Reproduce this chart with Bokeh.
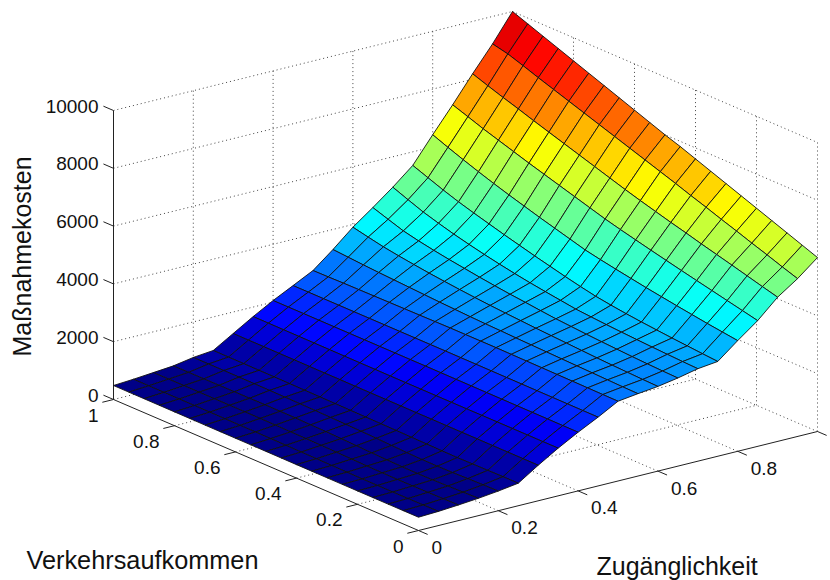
from bokeh.plotting import figure
from bokeh.models import Range1d, ColumnDataSource
from bokeh.core.properties import value
from bokeh.embed import file_html
from bokeh.resources import INLINE
import math

x_nodes = [i * 0.05 for i in range(21)]
y_nodes = [j * 0.05 for j in range(21)]

z_00 = [460,460,460,461,462,463,464,465,466,468,470,471,472,473,474,476,478,479,481,482,484]
z_05 = [490,485,482,480,480,482,486,492,498,504,510,514,518,520,522,524,526,527,528,529,530]
z_10 = [540,530,522,518,516,520,528,540,552,562,570,578,584,588,590,590,590,590,590,590,590]
z_15 = [600,585,570,558,552,556,568,586,606,624,640,650,660,664,664,662,660,657,654,652,650]
z_20 = [680,670,655,640,632,636,650,670,692,708,720,732,744,752,758,762,766,768,770,770,770]
z_25 = [780,778,772,765,760,764,772,782,790,796,800,806,812,818,822,826,830,833,836,838,840]
z_30 = [1230,1231,1232,1233,1234,1235,1236,1237,1238,1239,1240,1242,1243,1245,1246,1248,1250,1251,1253,1254,1256]
z_35 = [1650,1650,1650,1650,1650,1650,1650,1650,1650,1650,1650,1652,1654,1656,1658,1660,1662,1664,1666,1668,1670]
z_40 = [2030,2032,2034,2036,2038,2040,2042,2044,2046,2048,2050,2050,2051,2051,2052,2052,2053,2053,2054,2054,2055]
z_45 = [2380,2382,2384,2386,2388,2390,2392,2394,2396,2398,2400,2400,2400,2400,2400,2400,2400,2400,2400,2400,2400]
z_50 = [2760,2765,2770,2775,2780,2785,2790,2795,2800,2800,2800,2800,2795,2790,2785,2780,2775,2770,2765,2755,2750]
z_55 = [2850,2860,2875,2890,2905,2920,2935,2950,2965,2985,3000,3020,3045,3070,3100,3130,3160,3190,3225,3265,3305]
z_60 = [2930,2945,2965,2985,3010,3040,3070,3100,3130,3165,3200,3240,3285,3335,3390,3450,3520,3595,3680,3790,3906]
z_65 = [3050,3065,3085,3110,3140,3170,3205,3245,3285,3340,3400,3455,3520,3590,3670,3750,3840,3940,4060,4235,4415]
z_70 = [3200,3220,3245,3270,3300,3330,3365,3405,3450,3525,3600,3680,3770,3870,3980,4100,4230,4380,4540,4740,4948]
z_75 = [3280,3320,3365,3410,3460,3510,3570,3640,3720,3830,3950,4080,4210,4350,4490,4640,4790,4950,5130,5330,5530]
z_80 = [3830,3900,3970,4050,4130,4215,4300,4395,4490,4590,4700,4850,5000,5150,5310,5470,5640,5820,6010,6210,6420]
z_85 = [4350,4470,4590,4710,4830,4950,5075,5200,5330,5460,5600,5760,5920,6080,6240,6400,6570,6740,6910,7100,7285]
z_90 = [4990,5130,5275,5420,5560,5700,5850,5990,6140,6290,6450,6620,6790,6960,7130,7300,7470,7650,7820,8000,8187]
z_95 = [5460,5640,5830,6010,6200,6380,6570,6750,6940,7120,7300,7480,7660,7840,8020,8200,8380,8560,8750,8930,9050]
z_100 = [6020,6220,6420,6620,6820,7020,7220,7420,7620,7820,8000,8200,8400,8600,8800,9000,9200,9400,9600,9800,10000]

Z = [z_00,z_05,z_10,z_15,z_20,z_25,z_30,z_35,z_40,z_45,z_50,z_55,z_60,z_65,z_70,z_75,z_80,z_85,z_90,z_95,z_100]

x_ticks = [0, 0.2, 0.4, 0.6, 0.8]
x_tick_labels = ["0", "0.2", "0.4", "0.6", "0.8"]
y_ticks = [0, 0.2, 0.4, 0.6, 0.8, 1]
y_tick_labels = ["0", "0.2", "0.4", "0.6", "0.8", "1"]
z_ticks = [0, 2000, 4000, 6000, 8000, 10000]
z_tick_labels = ["0", "2000", "4000", "6000", "8000", "10000"]
x_title = "Zugänglichkeit"
y_title = "Verkehrsaufkommen"
z_title = "Maßnahmekosten"


def project(x, y, z):
    return 418 + 399 * x - 305 * y, 530 - 99 * x - 131 * y - 0.0289 * z


def jet(v):
    v = (math.floor(min(max(v, 0), 1) * 63.999) + 0.5) / 64
    f = lambda c: int(255 * min(max(1.5 - abs(4 * v - c), 0), 1))
    return "#%02x%02x%02x" % (f(3), f(2), f(1))


p = figure(width=830, height=580, output_backend="svg", toolbar_location=None,
           x_range=Range1d(0, 830), y_range=Range1d(580, 0), min_border=0, outline_line_color=None)
p.axis.visible = False
p.grid.visible = False
p.background_fill_color = "white"
p.border_fill_color = "white"


def seg(a, b, color, dash="solid", width=1.0):
    pa, pb = project(*a), project(*b)
    p.line([pa[0], pb[0]], [pa[1], pb[1]], line_color=color, line_dash=dash, line_width=width)


GC = "#444444"
DOT = "1 3"
grid_x = [0.2, 0.4, 0.6, 0.8, 1]
grid_y = [0.2, 0.4, 0.6, 0.8, 1]
grid_z = z_ticks[1:]
zmax = z_ticks[-1]
for gx in grid_x:
    seg((gx, 0, 0), (gx, 1, 0), GC, DOT)
    seg((gx, 1, 0), (gx, 1, zmax), GC, DOT)
for gy in grid_y:
    seg((0, gy, 0), (1, gy, 0), GC, DOT)
for gy in [0, 0.2, 0.4, 0.6, 0.8]:
    seg((1, gy, 0), (1, gy, zmax), GC, DOT)
for gz in grid_z:
    seg((0, 1, gz), (1, 1, gz), GC, DOT)
    seg((1, 1, gz), (1, 0, gz), GC, DOT)

AC = "#222222"
seg((0, 0, 0), (1, 0, 0), AC)
seg((0, 0, 0), (0, 1, 0), AC)
seg((0, 1, 0), (0, 1, zmax), AC)
for t in x_ticks + [1]:
    seg((t, 0, 0), (t, -0.03, 0), AC)
for t in y_ticks:
    seg((0, t, 0), (-0.028, t, 0), AC)
for t in z_ticks:
    seg((0, 1, t), (0, 1.033, t), AC)

zlo = min(min(r) for r in Z)
zhi = max(max(r) for r in Z)
xs, ys, colors = [], [], []
for i in range(len(x_nodes) - 2, -1, -1):
    for j in range(len(y_nodes) - 2, -1, -1):
        corners = [(i, j), (i + 1, j), (i + 1, j + 1), (i, j + 1)]
        pts = [project(x_nodes[a], y_nodes[b], Z[a][b]) for a, b in corners]
        xs.append([q[0] for q in pts])
        ys.append([q[1] for q in pts])
        colors.append(jet((Z[i][j + 1] - zlo) / (zhi - zlo)))
src = ColumnDataSource(dict(xs=xs, ys=ys, c=colors))
p.patches("xs", "ys", source=src, fill_color="c", line_color="#111111", line_width=0.9)

FONT = value("Liberation Sans")
TS = "19px"
for t, lab in zip(x_ticks, x_tick_labels):
    q = project(t, 0, 0)
    p.text([q[0] + 13], [q[1] + 17], text=[lab], text_font=FONT, text_font_size=TS,
           text_align="left", text_baseline="middle", text_color="#111111")
for t, lab in zip(y_ticks, y_tick_labels):
    q = project(0, t, 0)
    p.text([q[0] - 15], [q[1] + 15.5], text=[lab], text_font=FONT, text_font_size=TS,
           text_align="right", text_baseline="middle", text_color="#111111")
for t, lab in zip(z_ticks, z_tick_labels):
    q = project(0, 1, t)
    p.text([98], [q[1] - 4.5], text=[lab], text_font=FONT, text_font_size=TS,
           text_align="right", text_baseline="middle", text_color="#111111")

p.text([26], [559], text=[y_title], text_font=FONT, text_font_size="25.3px", text_baseline="middle", text_color="#111111")
p.text([596], [565], text=[x_title], text_font=FONT, text_font_size="25px", text_baseline="middle", text_color="#111111")
p.text([21], [356], text=[z_title], text_font=FONT, text_font_size="25px", angle=math.pi / 2,
       text_align="left", text_baseline="middle", text_color="#111111")

open("out.html", "w").write(file_html(p, INLINE))
